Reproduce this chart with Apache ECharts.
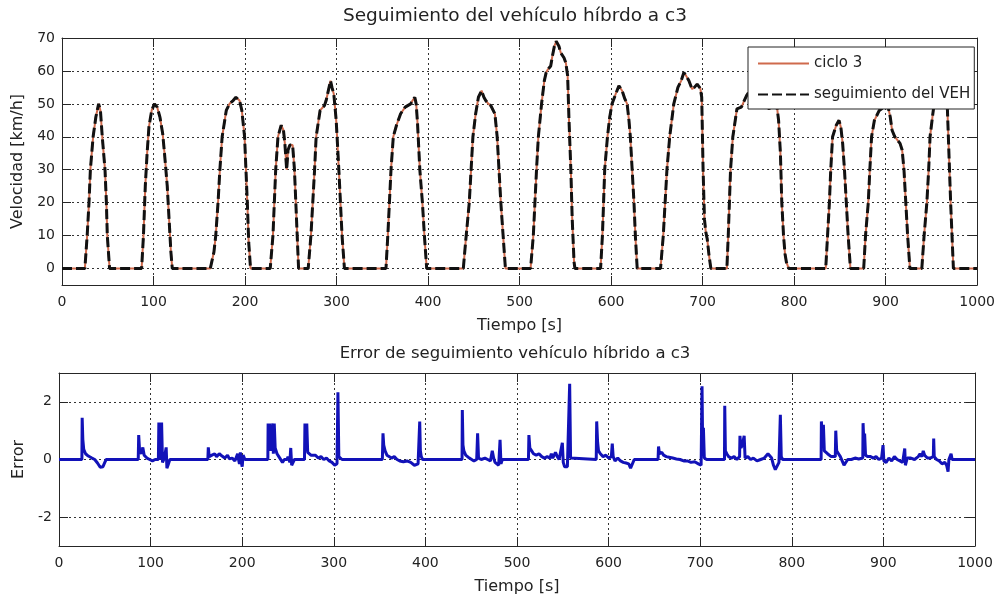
<!DOCTYPE html>
<html>
<head>
<meta charset="utf-8">
<title>Seguimiento del vehículo híbrido a c3</title>
<script src="https://cdn.jsdelivr.net/npm/echarts@6/dist/echarts.min.js"></script>
<style>
    html, body { margin: 0; padding: 0; background: #fff; }
    #echart1 { width: 998px; height: 602px; }
</style>
</head>
<body>
<div id="echart1"></div>
<script>
// ciclo 3: tiempo [s] / velocidad [km/h]
var tiempo = [0, 25, 27.5, 29.5, 31, 34, 37, 40, 42, 44, 47, 48.5, 49.5, 52,
    87, 89, 91, 93, 95, 98, 101, 104, 107, 110, 112, 115, 117, 119, 120.5,
    162, 166, 168, 170.5, 172.5, 175, 179.5, 183, 187, 190, 192, 194, 196.5, 199.5, 202.5, 204, 206,
    227.5, 230.5, 233.5, 236, 239.5, 242, 243.5, 245.5, 247, 249, 252, 254, 257, 258.5,
    269, 272, 274, 276, 277.7, 282, 286.8, 288.6, 291, 293.4, 295, 297, 299.6, 302.5, 306, 308.6,
    354, 356, 359.5, 362, 365.5, 370, 375, 381, 383, 385.5, 387, 388.5, 391, 393.8, 396, 398.5,
    438.5, 441, 445, 447, 449, 452, 455, 458.5, 461, 463, 466, 468.5, 473, 475.5, 477.5, 479.5, 482, 484.5,
    512, 515, 518.5, 520.5, 524, 527, 529, 531, 534, 535.5, 538, 540, 543, 545, 548.5, 550.5, 552.5, 554, 556, 557.5, 559.5, 560.5,
    588.5, 590.5, 593, 596, 598.5, 601, 605, 608.5, 612, 615, 617.5, 619.5, 621, 623, 625, 626.5, 628.5,
    654, 657, 659, 661, 664, 668.5, 673, 676.5, 679.5, 682, 685, 688.5, 691, 694, 697.5, 699, 700.5, 702, 703.5, 705, 707, 709,
    726.5, 728, 730.5, 733, 737.5, 742.3, 748, 754, 760, 766, 770, 772.8, 776, 780, 783, 785, 786.5, 788.4, 790, 791.5, 794,
    834.5, 836.5, 838.5, 840, 842, 846, 849, 851, 853, 855, 857, 859, 861.5,
    876, 878, 881, 882.7, 884.6, 887.7, 893, 898, 902, 905, 907, 910, 915.7, 918, 920, 922, 924, 926.5,
    939.5, 942, 945, 947, 948.5, 952, 956, 960, 964, 967, 968.5, 971, 972.5, 974, 1000];
var velocidad = [0, 0, 10, 20, 30, 40, 46, 50, 48, 40, 30, 20, 10, 0,
    0, 10, 25, 35, 43, 48, 50, 49, 46, 41, 35, 25, 15, 5, 0,
    0, 5, 10, 20, 30, 40, 48, 50, 51, 52, 51.5, 51, 48, 40, 20, 8, 0,
    0, 10, 30, 40, 43.5, 42, 38, 30, 36, 37.5, 37.5, 30, 10, 0,
    0, 10, 20, 30, 40, 48, 49.5, 51, 54, 57, 55, 53, 45, 30, 10, 0,
    0, 10, 30, 40, 43.5, 47, 49, 50, 51, 52, 50, 44, 30, 20, 10, 0,
    0, 8, 20, 30, 40, 47, 52, 54, 52, 51, 50, 49.5, 47, 40, 30, 20, 10, 0,
    0, 10, 30, 40, 50, 57, 59.5, 60.5, 61.5, 64, 67.5, 69, 67.5, 65.5, 64, 62.5, 58.5, 45, 30, 15, 2, 0,
    0, 10, 30, 40, 46, 50, 53, 55.5, 54, 51.5, 50, 45, 40, 30, 20, 10, 0,
    0, 10, 20, 30, 40, 50, 55, 57, 59.5, 58.5, 57, 54.5, 55, 56, 54.7, 52, 30, 15, 11, 9, 4, 0,
    0, 10, 30, 40, 48.5, 49, 52.5, 55, 56, 54, 50, 48.3, 52, 52, 45, 35, 20, 10, 4.5, 2, 0,
    0, 10, 20, 30, 40, 43.5, 45, 43, 38, 30, 20, 10, 0,
    0, 10, 20, 30, 40, 45, 48, 49, 50, 46, 42, 40, 38, 36, 30, 20, 10, 0,
    0, 10, 20, 30, 40, 48, 55, 58, 57, 52, 40, 20, 10, 0, 0];
// seguimiento del VEH: se superpone al ciclo en todo el trazado
var seguimientoVEH = velocidad.slice();

// error de seguimiento
var tiempoErr = [0, 25, 25.3, 26, 27, 29, 32, 36, 39, 42, 45, 48, 50, 51.5,
    86.5, 87, 88, 90, 91.5, 93, 96, 99, 102, 105, 108.5, 109, 109.8, 110.5, 111.3, 112, 113, 115, 117, 117.8, 119, 121,
    162.5, 163, 164, 167, 170, 172, 175, 178, 181, 184, 186, 189, 192, 195, 196, 197, 198, 199, 200, 201, 203, 206,
    228, 228.3, 229, 230, 231, 232, 233.5, 234, 235, 236, 238, 240, 242, 244, 246, 249, 250, 252, 253, 254, 256, 257,
    268, 268.5, 269.5, 270.5, 271.5, 273, 275, 277, 280, 283, 286, 289, 292, 295, 298, 301, 303.5, 304.5, 305.5, 307, 309,
    353, 353.7, 354.5, 356, 358, 360, 363, 366, 369, 372, 376, 380, 384, 388, 390, 392, 393.8, 394.5, 395.5, 397,
    440, 440.3, 441, 442, 444, 446, 448, 450, 453, 456, 457, 458, 461, 465, 468, 471, 473, 474.5, 476, 478, 480, 481.5, 482.5, 484,
    512.5, 513, 514, 516, 518, 521, 524, 527, 530, 533, 536, 537.5, 539, 542, 544, 546, 548, 549.5, 550.5, 552, 555, 557, 557.5, 558.5, 560,
    586.5, 587, 588, 589, 591, 594, 597, 600, 603, 604, 605, 607, 610, 613, 616, 619, 622, 624, 626, 628,
    654, 654.5, 655.5, 658, 660, 663, 666, 670, 674, 678, 682, 686, 690, 694, 698, 701, 702, 702.8, 703.5, 704.5, 707,
    726.5, 726.8, 727.5, 729, 731, 734, 737, 740, 743, 743.4, 744.5, 746, 748, 749, 752, 755, 758, 762, 766, 770, 774, 776, 778, 780, 782, 784, 786, 787.5, 788.5, 790,
    832, 832.3, 833.5, 834.5, 835.5, 837, 839, 841, 843, 845, 847.5, 848, 849, 851, 853, 855, 857, 859, 861, 865, 869, 873,
    877.5, 877.8, 878.8, 879.5, 880.5, 883, 886, 889, 892, 895, 898, 899.6, 900.5, 903, 906, 909, 912, 915, 918, 921, 923.3, 924, 926,
    930, 934, 938, 940, 942, 943.5, 945, 948, 951, 954.5, 954.9, 955.5, 958, 961, 964, 967, 969, 970.6, 971.5, 973.9, 975, 1000];
var errorVEH = [0, 0, 1.45, 0.7, 0.35, 0.2, 0.12, 0.05, 0, -0.12, -0.27, -0.25, -0.1, 0,
    0, 0.85, 0.3, 0.2, 0.42, 0.15, 0.05, 0, -0.05, 0, 0, 1.28, 0.1, 1.28, 0, 1.28, -0.1, 0.05, 0.42, -0.3, -0.2, 0,
    0, 0.42, 0.1, 0.15, 0.2, 0.1, 0.2, 0.12, 0.05, 0.15, 0.02, 0.05, -0.05, 0.2, 0, -0.15, 0.25, -0.1, -0.25, 0.15, 0, 0,
    0, 1.25, 0.5, 1.25, 0.3, 0.5, 1.25, 0.2, 1.25, 0.4, 0.2, 0.1, 0.05, -0.1, 0, 0, 0.1, -0.1, 0.4, -0.2, -0.25, 0,
    0, 1.25, 0.3, 1.25, 0.25, 0.3, 0.15, 0.1, 0.15, 0.05, 0.1, 0, 0.05, -0.05, -0.1, -0.2, -0.15, 2.33, 0.1, 0.05, 0,
    0, 0.91, 0.5, 0.3, 0.15, 0.1, 0.05, 0.1, 0, -0.05, -0.08, -0.05, -0.1, -0.2, -0.22, -0.15, 1.32, 0.3, 0.1, 0,
    0, 1.72, 0.5, 0.3, 0.15, 0.1, 0.05, 0, -0.05, 0, 0.91, 0.05, 0, 0.05, 0, -0.05, 0.3, 0.05, -0.1, -0.15, -0.2, 0.68, -0.15, 0,
    0, 0.85, 0.4, 0.3, 0.2, 0.15, 0.2, 0.1, 0.05, 0.1, 0.05, 0.2, 0.05, 0.25, 0.1, 0, -0.05, 0.58, -0.1, -0.25, -0.25, -0.2, 2.63, 0.05, 0,
    0, 1.32, 0.6, 0.3, 0.2, 0.1, 0.15, 0.05, 0.1, 0.55, 0.1, -0.05, 0.05, -0.05, -0.1, -0.12, -0.15, -0.3, -0.28, 0,
    0, 0.45, 0.2, 0.25, 0.15, 0.1, 0.08, 0.05, 0.02, 0, -0.05, -0.05, -0.1, -0.08, -0.15, -0.2, 2.54, 0.2, 1.1, 0.05, 0,
    0, 1.86, 0.3, 0.2, 0.1, 0.05, 0.1, 0, 0.1, 0.82, 0.4, 0.5, 0.82, 0.05, 0.1, 0, 0.05, -0.05, 0, 0.05, 0.2, 0.25, 0.05, -0.2, -0.35, -0.3, -0.1, 1.55, 0.1, 0,
    0, 1.32, 0.6, 1.2, 0.3, 0.3, 0.2, 0.15, 0.1, 0.05, 0.1, 1.0, 0.3, 0.2, 0.1, -0.05, -0.2, -0.15, 0, 0, 0.05, 0.02,
    0.05, 1.26, 0.5, 0.9, 0.15, 0.1, 0.1, 0.05, 0.1, 0, 0.05, 0.5, -0.05, -0.1, 0.05, -0.05, 0.1, 0, -0.05, -0.1, 0.38, -0.2, 0.05,
    0.05, 0, 0.1, 0.2, 0.1, 0.3, 0.15, 0.05, 0.05, 0.1, 0.73, 0.1, 0, -0.05, -0.15, -0.1, -0.2, -0.42, 0, 0.2, 0, 0];

// marcas de los ejes
var ticksVelocidad = [0, 10, 20, 30, 40, 50, 60, 70];
var ticksError = [-2, 0, 2];

function pares(xs, ys) {
    return xs.map(function (x, i) { return [x, ys[i]]; });
}

var fuente = 'DejaVu Sans';
var colorEje = '#262626';
var rejilla = { show: true, lineStyle: { color: '#333', width: 1, type: [2, 3] } };

function ejeX(grid, pos, conNombre) {
    return {
        type: 'value', gridIndex: grid, position: pos,
        min: 0, max: 1000, interval: 100,
        name: conNombre ? 'Tiempo [s]' : '',
        nameLocation: 'middle', nameGap: 33,
        nameTextStyle: { fontFamily: fuente, fontSize: 16, color: '#222' },
        axisLine: { onZero: false, lineStyle: { color: colorEje, width: 1 } },
        axisTick: { inside: true, length: 9, lineStyle: { color: colorEje } },
        axisLabel: {
            show: conNombre, margin: 10, fontFamily: fuente, fontSize: 14, color: '#222',
            formatter: function (v) { return String(v); }
        },
        splitLine: conNombre ? rejilla : { show: false }
    };
}

function ejeY(grid, pos, min, max, ticks, nombre, gap) {
    var izq = pos === 'left';
    return {
        type: 'value', gridIndex: grid, position: pos,
        min: min, max: max,
        name: izq ? nombre : '',
        nameLocation: 'middle', nameGap: gap || 28,
        nameTextStyle: { fontFamily: fuente, fontSize: 16, color: '#222' },
        axisLine: { show: true, onZero: false, lineStyle: { color: colorEje, width: 1 } },
        axisTick: { show: true, inside: true, length: 9, customValues: ticks, lineStyle: { color: colorEje } },
        axisLabel: { show: izq, margin: 7, customValues: ticks, fontFamily: fuente, fontSize: 14, color: '#222' },
        splitLine: izq ? rejilla : { show: false }
    };
}

var myChart1 = echarts.init(document.getElementById('echart1'));

var option1 = {
    animation: false,
    backgroundColor: '#fff',
    title: [{
        text: 'Seguimiento del vehículo híbrdo a c3',
        left: 515, top: 7, textAlign: 'center', padding: 0,
        textStyle: { fontFamily: fuente, fontSize: 18.5, fontWeight: 'normal', color: '#222' }
    }, {
        text: 'Error de seguimiento vehículo híbrido a c3',
        left: 515, top: 345, textAlign: 'center', padding: 0,
        textStyle: { fontFamily: fuente, fontSize: 16.5, fontWeight: 'normal', color: '#222' }
    }],
    legend: {
        data: ['ciclo 3', 'seguimiento del VEH'],
        orient: 'vertical',
        left: 748, top: 47,
        z: 10,
        padding: [9, 4, 7, 9],
        itemWidth: 51, itemHeight: 14, itemGap: 16,
        itemStyle: { opacity: 0 },
        backgroundColor: '#fff',
        borderColor: '#222', borderWidth: 1,
        textStyle: { fontFamily: fuente, fontSize: 15, color: '#222' }
    },
    grid: [
        { left: 62, right: 19, top: 38, bottom: 317 },
        { left: 59, right: 23, top: 373, bottom: 56 }
    ],
    xAxis: [
        ejeX(0, 'bottom', true),
        ejeX(0, 'top', false),
        ejeX(1, 'bottom', true),
        ejeX(1, 'top', false)
    ],
    yAxis: [
        ejeY(0, 'left', -5, 70, ticksVelocidad, 'Velocidad [km/h]', 28),
        ejeY(0, 'right', -5, 70, ticksVelocidad),
        ejeY(1, 'left', -3, 3, ticksError, 'Error', 29),
        ejeY(1, 'right', -3, 3, ticksError)
    ],
    series: [{
        name: 'ciclo 3',
        type: 'line',
        xAxisIndex: 0, yAxisIndex: 0,
        symbol: 'none',
        lineStyle: { color: '#cf6a4c', width: 2 },
        itemStyle: { color: '#cf6a4c' },
        data: pares(tiempo, velocidad),
        z: 2
    }, {
        name: 'seguimiento del VEH',
        type: 'line',
        xAxisIndex: 0, yAxisIndex: 0,
        symbol: 'none',
        lineStyle: { color: '#111', width: 3, type: [10, 4] },
        itemStyle: { color: '#111' },
        data: pares(tiempo, seguimientoVEH),
        z: 3
    }, {
        name: 'error',
        type: 'line',
        xAxisIndex: 2, yAxisIndex: 2,
        symbol: 'none',
        lineStyle: { color: '#1212b8', width: 3 },
        itemStyle: { color: '#1212b8' },
        data: pares(tiempoErr, errorVEH),
        z: 2
    }]
};

myChart1.setOption(option1);

window.addEventListener("resize", function () {
    myChart1.resize();
});
</script>
</body>
</html>
